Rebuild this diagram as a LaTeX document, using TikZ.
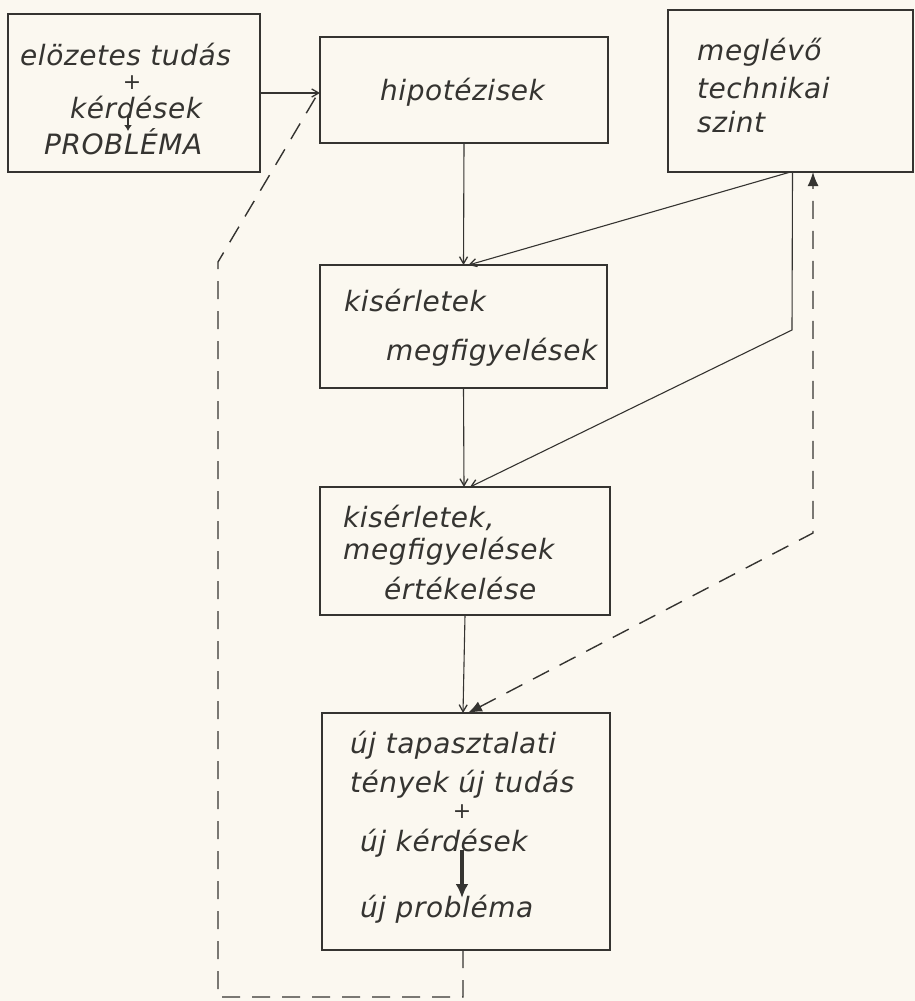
\documentclass[tikz,border=0pt]{standalone}
\usepackage{fontspec}
\setmainfont{DejaVu Sans}[LetterSpace=2]
\usetikzlibrary{arrows.meta}
\definecolor{ink}{HTML}{353431}
\definecolor{paper}{HTML}{FBF8F0}
\begin{document}
\begin{tikzpicture}[x=1pt,y=-1pt,
  box/.style={draw=ink,line width=2.4pt,rectangle,inner sep=0pt,outer sep=0pt},
  lbl/.style={text=ink,font=\fontsize{28}{30}\selectfont\itshape,inner sep=0pt,anchor=west},
  lblc/.style={lbl,anchor=center},
  plus/.style={text=ink,font=\fontsize{22}{22}\selectfont,inner sep=0pt,anchor=center},
  conn/.style={draw=ink,line width=1.1pt,-{Straight Barb[length=7pt,width=8pt,line width=1.3pt]}},
  dconn/.style={draw=ink,line width=1.4pt,dash pattern=on 18pt off 12pt},
  darr/.style={{Latex[length=14pt,width=11pt]}-{Latex[length=14pt,width=11pt]}}
]
\fill[paper] (0,0) rectangle (915,1001);
\useasboundingbox (0,0) rectangle (915,1001);

% boxes
\node[box,minimum width=252pt,minimum height=158pt] (A) at (134,93) {};
\node[box,minimum width=288pt,minimum height=106pt] (B) at (464,90) {};
\node[box,minimum width=245pt,minimum height=162pt] (C) at (790.5,91) {};
\node[box,minimum width=287pt,minimum height=123pt] (D) at (463.5,326.5) {};
\node[box,minimum width=290pt,minimum height=128pt] (E) at (465,551) {};
\node[box,minimum width=288pt,minimum height=237pt] (F) at (466,831.5) {};

% texts
\node[lbl] (a1) at (20,55) {elözetes tudás};
\node[plus] (a2) at (132,83) {+};
\node[lbl] (a3) at (70,107) {kérdések};
\node[lbl] (a4) at (44,142) {PROBLÉMA};
\coordinate (as) at (128,116);
\coordinate (ae) at (128,131);
\draw[ink,line width=1.6pt,-{Latex[length=6pt,width=8pt]}] (as) -- (ae);

\node[lbl] (b1) at (380,92) {hipotézisek};

\node[lbl] (c1) at (697,52) {meglévő};
\node[lbl] (c2) at (697,88) {technikai};
\node[lbl] (c3) at (697,122) {szint};

\node[lbl] (d1) at (344,300) {kisérletek};
\node[lbl] (d2) at (386,352) {megfigyelések};

\node[lbl] (e1) at (343,518) {kisérletek,};
\node[lbl] (e2) at (343,551) {megfigyelések};
\node[lbl] (e3) at (384,588) {értékelése};

\node[lbl] (f1) at (350,745) {új tapasztalati};
\node[lbl] (f2) at (350,784) {tények új tudás};
\node[plus] (f3) at (462,812) {+};
\node[lbl] (f4) at (360,843) {új kérdések};
\node[lbl] (f5) at (360,909) {új probléma};
\coordinate (fs) at (462,850);
\coordinate (fe) at (462,898);
\draw[ink,line width=3.4pt,-{Latex[length=14pt,width=13pt]}] (fs) -- (fe);

% solid connectors
\draw[conn] (A.east) -- (A.east -| B.west);
\draw[conn] (B.south) -- (D.north);
\draw[conn] (C.south) -- ([xshift=5pt]D.north);
\coordinate (k) at (792,330);
\draw[conn] ([xshift=2pt]C.south) -- (k) -- ([xshift=5pt]E.north);
\draw[conn] (D.south) -- ([xshift=-1pt]E.north);
\draw[conn] (E.south) -- ([xshift=-3pt]F.north);

% dashed double arrow
\coordinate (m) at (813,533);
\draw[dconn,darr] ([xshift=2pt]F.north) -- (m) -- (m |- C.south);

% dashed feedback loop
\coordinate (p1) at (463,997);
\coordinate (p2) at (218,997);
\coordinate (p3) at (218,262);
\draw[dconn] ([xshift=-3pt]F.south) -- (p1 |- F.south) -- (p1) -- (p2) -- (p3) -- (B.west);
\end{tikzpicture}
\end{document}
